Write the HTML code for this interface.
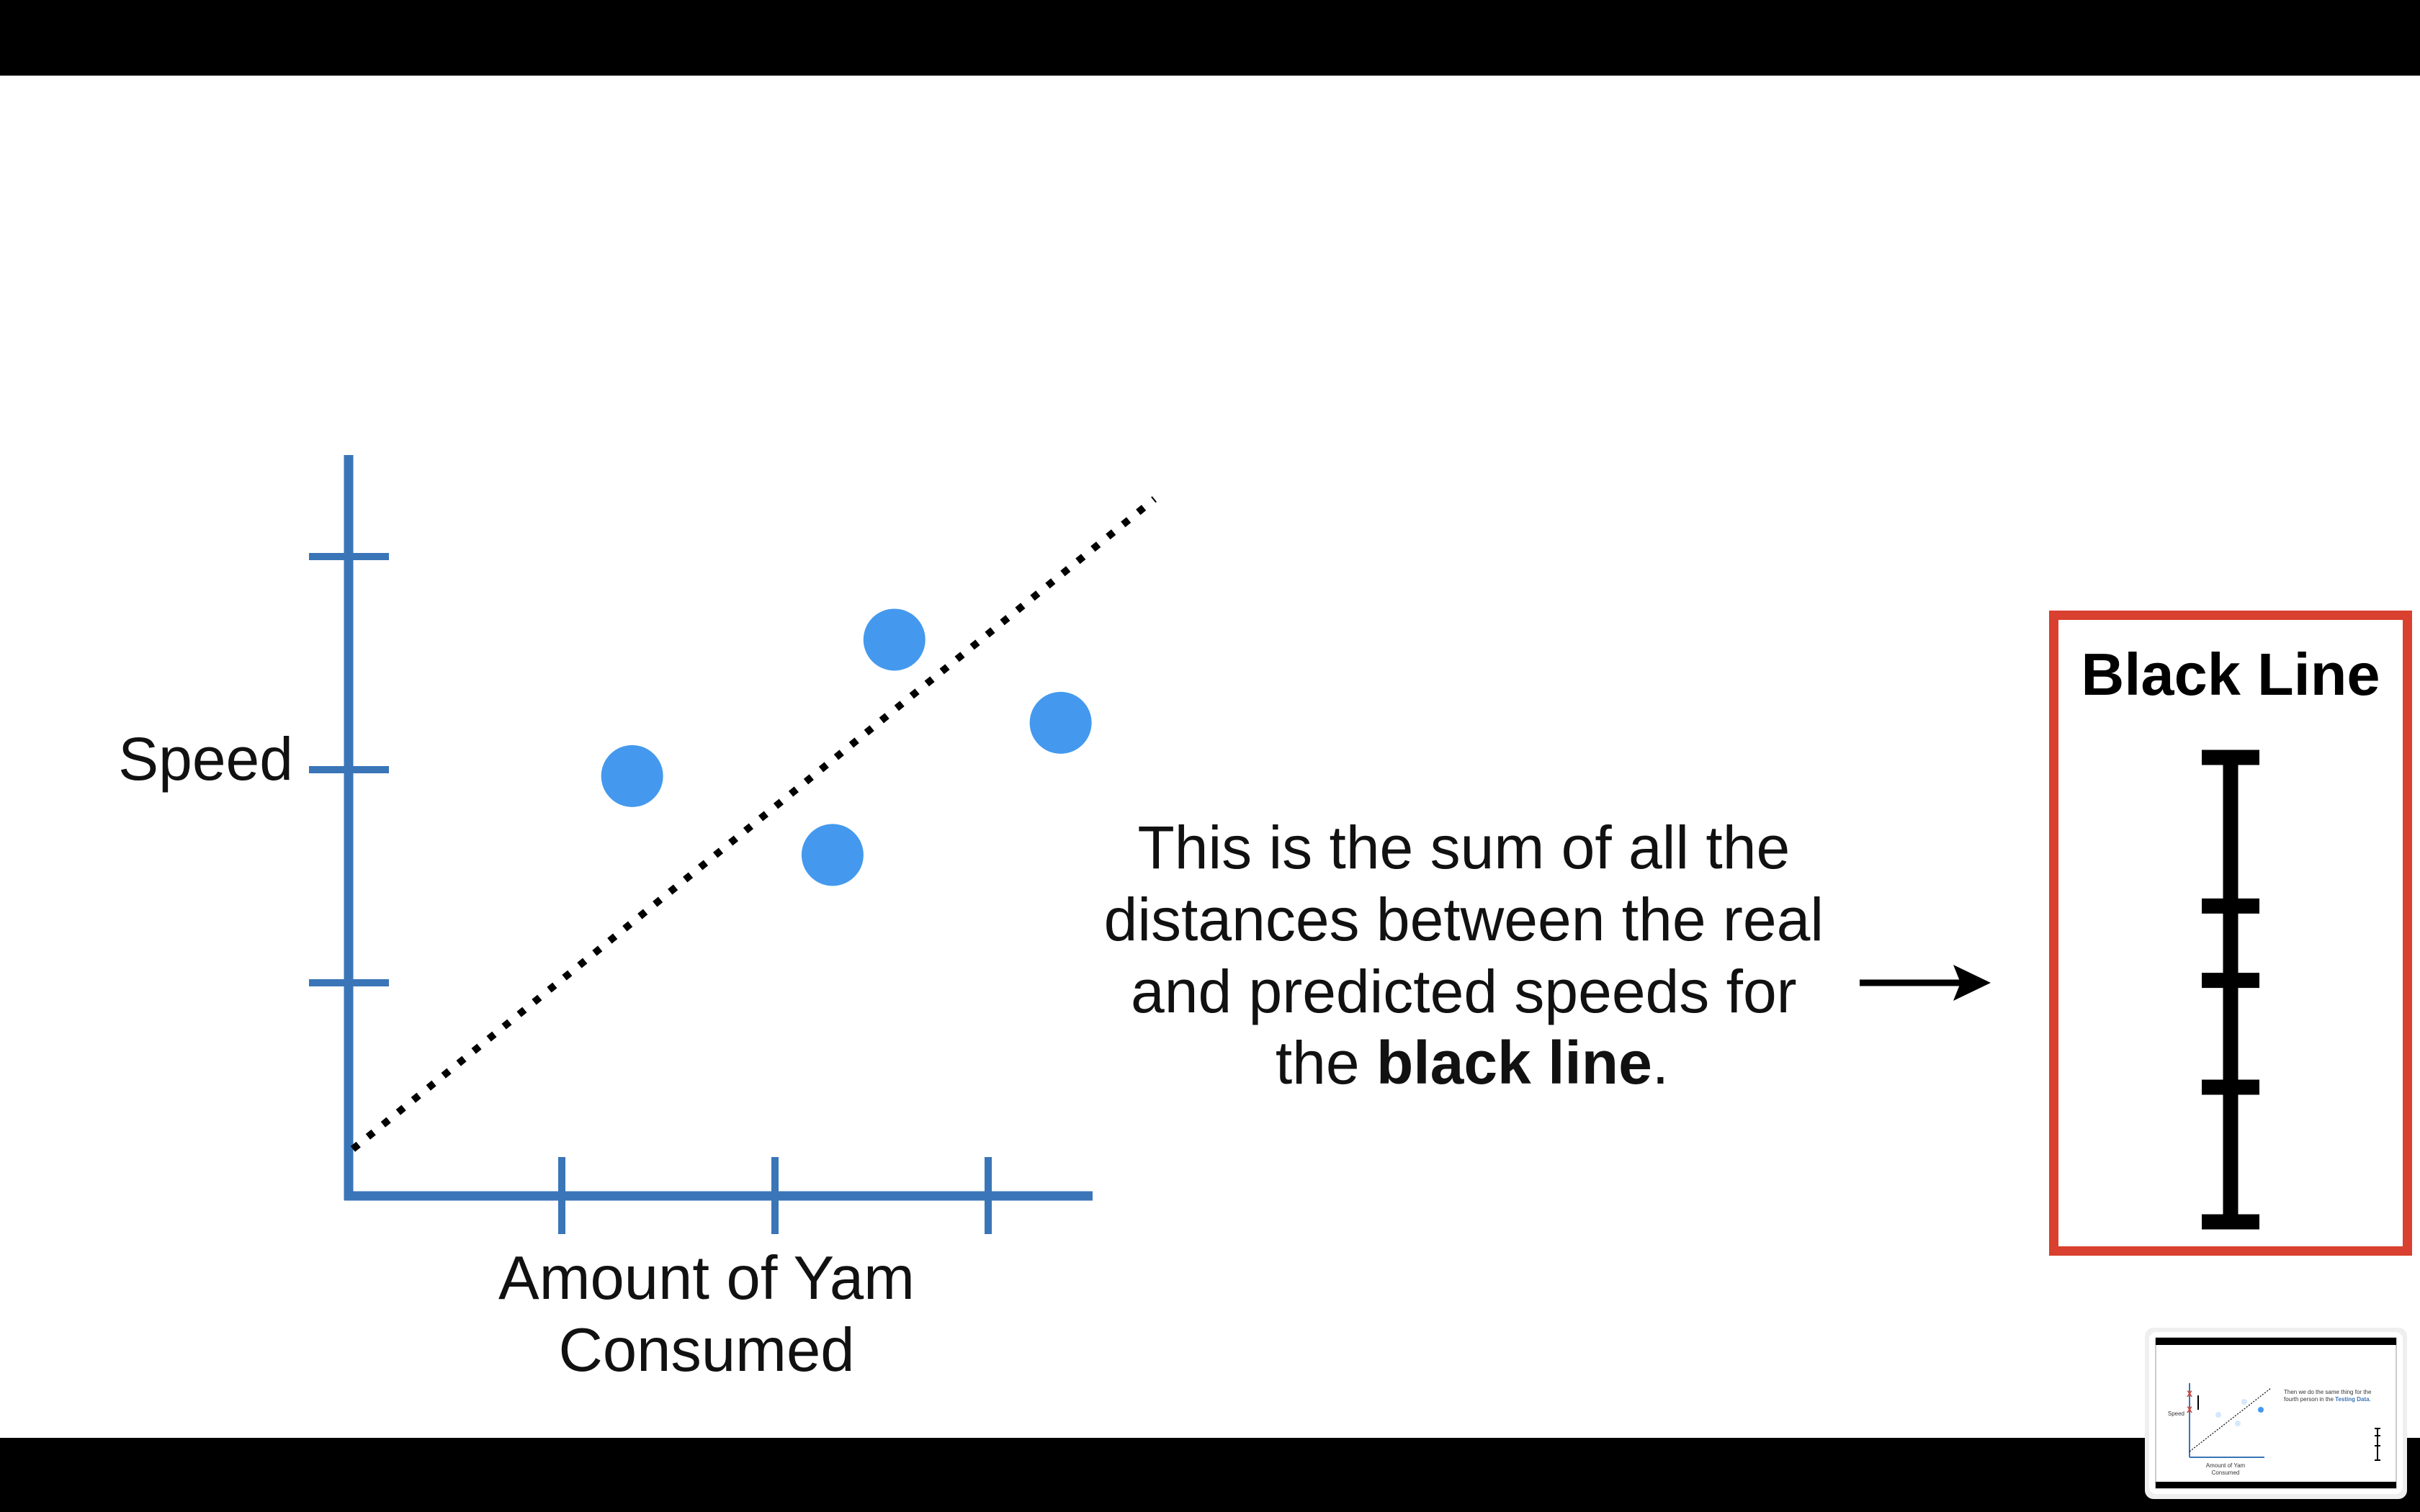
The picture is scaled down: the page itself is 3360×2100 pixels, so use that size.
<!DOCTYPE html>
<html><head><meta charset="utf-8"><style>
html,body{margin:0;padding:0;background:#fff}
svg{display:block}
text{font-family:"Liberation Sans",Arial,sans-serif}
</style></head><body>
<svg id="s" width="3360" height="2100" viewBox="0 0 3360 2100">
<rect x="0" y="0" width="3360" height="105" fill="#000"/>
<rect x="0" y="1997" width="3360" height="103" fill="#000"/>
<g id="chart"></g>
<text x="407" y="1083" font-size="84" text-anchor="end" fill="#111">Speed</text>
<text x="981" y="1804" font-size="85" text-anchor="middle" fill="#111"><tspan x="981">Amount of Yam</tspan><tspan x="981" dy="100">Consumed</tspan></text>
<text font-size="84" text-anchor="middle" fill="#111">
<tspan x="2044" y="1206">This is the sum of all the</tspan>
<tspan x="2044" y="1306">distances between the real</tspan>
<tspan x="2044" y="1406">and predicted speeds for</tspan>
<tspan x="2044" y="1505">the <tspan font-weight="bold">black line</tspan>.</tspan>
</text>
<g>
<line x1="2582" y1="1365" x2="2730" y2="1365" stroke="#000" stroke-width="9"/>
<polygon points="2764,1365 2712,1340 2722,1365 2712,1390" fill="#000"/>
</g>
<rect x="2851.5" y="854.5" width="491" height="883" fill="none" stroke="#d9402f" stroke-width="13"/>
<text x="3097" y="965" font-size="83" font-weight="bold" text-anchor="middle" fill="#000">Black Line</text>
<g id="errbar"></g>
<g>
<rect x="2978" y="1844" width="364" height="238" rx="12" fill="#efefef"/>
<rect x="2984" y="1850" width="352" height="225" rx="10" fill="#fff"/>
<rect x="2993" y="1858" width="334" height="209" fill="#fff" stroke="#999" stroke-width="1"/>
<rect x="2993" y="1858" width="334" height="10" fill="#000"/>
<rect x="2993" y="2058" width="334" height="9" fill="#000"/>
<line x1="3040" y1="1921" x2="3040" y2="2024" stroke="#3a75b8" stroke-width="2"/>
<line x1="3040" y1="2024" x2="3144" y2="2024" stroke="#3a75b8" stroke-width="2"/>
<line x1="3040" y1="2016" x2="3153" y2="1928" stroke="#000" stroke-width="1.2" stroke-dasharray="2,2"/>
<circle cx="3080" cy="1965" r="4" fill="#d6e8fb"/><circle cx="3116" cy="1947" r="4" fill="#d6e8fb"/>
<circle cx="3107" cy="1977" r="4" fill="#d6e8fb"/><circle cx="3139" cy="1958" r="4" fill="#4499ee"/>
<text x="3033" y="1966" font-size="8" text-anchor="end" fill="#333">Speed</text>
<text x="3090" y="2038" font-size="8" text-anchor="middle" fill="#333">Amount of Yam</text>
<text x="3090" y="2048" font-size="8" text-anchor="middle" fill="#333">Consumed</text>
<text x="3171" y="1936" font-size="8" fill="#333">Then we do the same thing for the</text>
<text x="3171" y="1946" font-size="8" fill="#333">fourth person in the <tspan fill="#3a75b8" font-weight="bold">Testing Data</tspan>.</text>
<text x="3040" y="1940" font-size="12" font-weight="bold" text-anchor="middle" fill="#d9402f">X</text>
<text x="3040" y="1962" font-size="12" font-weight="bold" text-anchor="middle" fill="#d9402f">X</text>
<line x1="3052" y1="1938" x2="3052" y2="1958" stroke="#000" stroke-width="2"/>
<line x1="3301" y1="1984" x2="3301" y2="2028" stroke="#000" stroke-width="2"/>
<line x1="3297" y1="1984" x2="3305" y2="1984" stroke="#000" stroke-width="2"/>
<line x1="3297" y1="1994" x2="3305" y2="1994" stroke="#000" stroke-width="2"/>
<line x1="3297" y1="2008" x2="3305" y2="2008" stroke="#000" stroke-width="2"/>
<line x1="3297" y1="2028" x2="3305" y2="2028" stroke="#000" stroke-width="2"/>
</g>
</svg>
<script>
// chart data (axis units = tick steps)
const xTicks = [1, 2, 3];
const yTicks = [1, 2, 3];
const pointsX = [1.33, 2.56, 2.27, 3.34];
const pointsY = [1.97, 2.61, 1.60, 2.22];
const lineX = [0.02, 3.78];
const lineY = [0.22, 3.27];
const errorCaps = [0, 0.32, 0.48, 0.71, 1.0];

const X0 = 484, Y0 = 1661, STEP = 296;
const sx = v => X0 + v * STEP;
const sy = v => Y0 - v * STEP;
const NS = 'http://www.w3.org/2000/svg';
const chart = document.getElementById('chart');
function mk(tag, attrs, parent) {
  const e = document.createElementNS(NS, tag);
  for (const k in attrs) e.setAttribute(k, attrs[k]);
  parent.appendChild(e);
  return e;
}
const AX = '#3a75b8';
let e = mk('line', {x1: X0, y1: 632, x2: X0, y2: Y0 + 6, stroke: AX, 'stroke-width': 13}, chart);


e = mk('line', {x1: X0 - 6, y1: Y0, x2: 1517, y2: Y0, stroke: AX, 'stroke-width': 13}, chart);


yTicks.forEach(t => {
  const el = mk('line', {x1: 429, y1: sy(t), x2: 540, y2: sy(t), stroke: AX, 'stroke-width': 10}, chart);
  
  
});
xTicks.forEach(t => {
  const el = mk('line', {x1: sx(t), y1: 1607, x2: sx(t), y2: 1714, stroke: AX, 'stroke-width': 10}, chart);
  
  
});
const fit = mk('line', {x1: sx(lineX[0]), y1: sy(lineY[0]), x2: sx(lineX[1]), y2: sy(lineY[1]), stroke: '#000', 'stroke-width': 10, 'stroke-dasharray': '10,17'}, chart);


pointsX.forEach((v, i) => {
  const c = mk('circle', {cx: sx(v), cy: sy(pointsY[i]), r: 43, fill: '#4499ee'}, chart);
  
  
});
// error bar stack
const eb = document.getElementById('errbar');
const EB_TOP = 1052, EB_BOT = 1697, EBX = 3097;
const ey = v => EB_TOP + v * (EB_BOT - EB_TOP);
const vl = mk('line', {x1: EBX, y1: ey(0), x2: EBX, y2: ey(1), stroke: '#000', 'stroke-width': 21}, eb);


errorCaps.forEach(v => {
  const c = mk('line', {x1: 3057, y1: ey(v), x2: 3137, y2: ey(v), stroke: '#000', 'stroke-width': 21}, eb);
  
  
});
</script>
</body></html>
